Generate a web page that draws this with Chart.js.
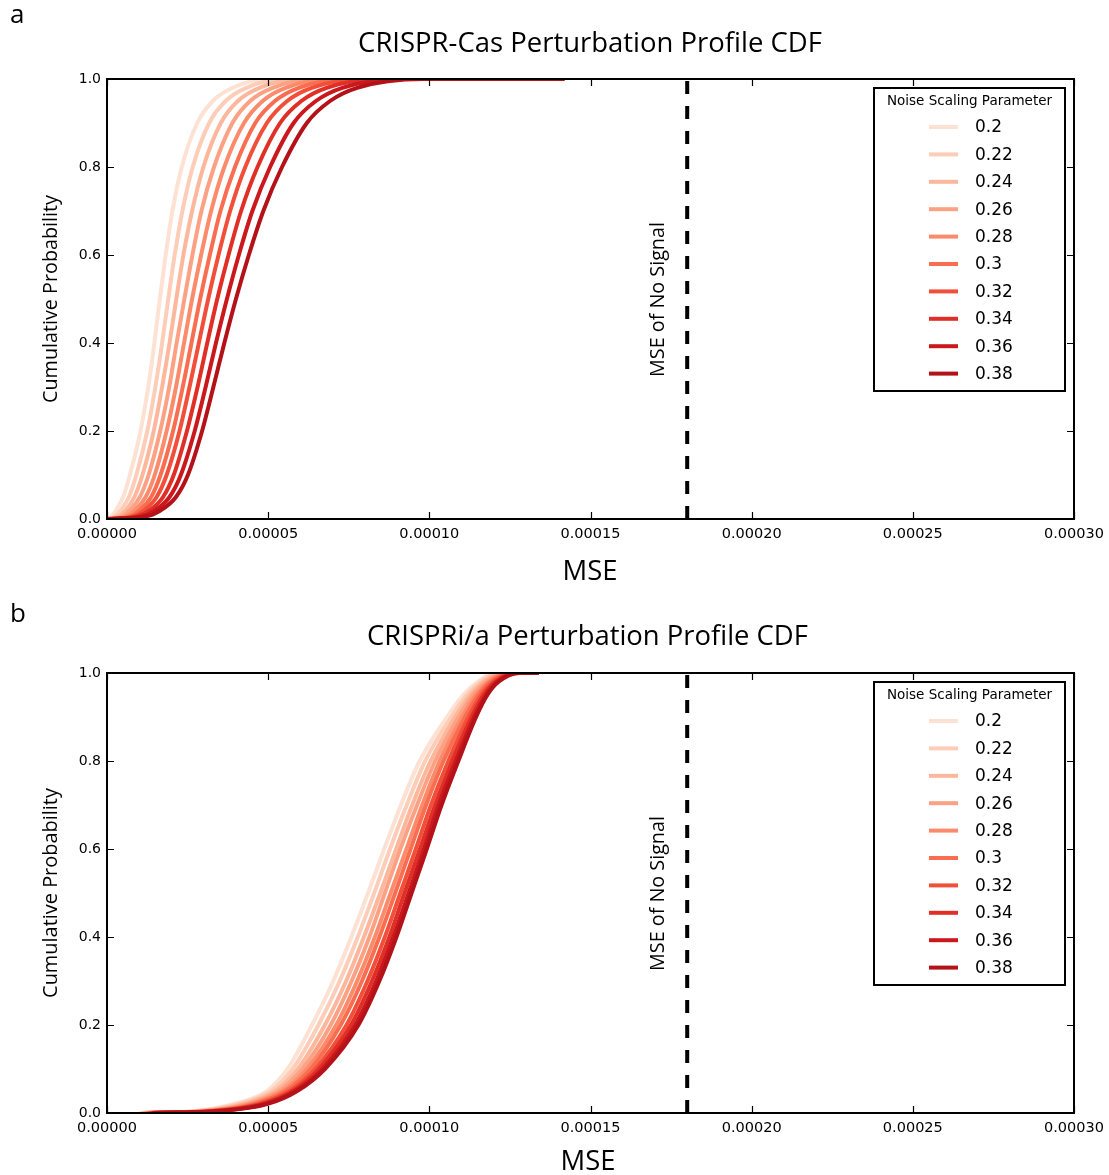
<!DOCTYPE html>
<html><head><meta charset="utf-8">
<script src="https://cdn.jsdelivr.net/npm/chart.js@4.4.1/dist/chart.umd.min.js"></script>
<style>
html,body{margin:0;padding:0;background:#fff;overflow:hidden;width:1109px;height:1175px;position:relative}
canvas{position:absolute;left:0}
#c1{top:0}#c2{top:594px}
</style></head>
<body>
<canvas id="c1" width="1109" height="594"></canvas>
<canvas id="c2" width="1109" height="581"></canvas>
<script>
// ---------------- DATA ----------------
const MSE_UNIT = 1e-5;                       // values below are in units of 1e-5
const NOISE_PARAMS = ['0.2','0.22','0.24','0.26','0.28','0.3','0.32','0.34','0.36','0.38'];
const COLORS = ['#fde1d3','#fdcdb8','#fcb79c','#fca184','#fc8b6c','#f96e50','#f14f39','#e02f26','#ca181d','#b31218'];
const CDF_LEVELS = [0, 0.005, 0.02, 0.05, 0.1, 0.2, 0.3, 0.4, 0.5, 0.6, 0.7, 0.8, 0.9, 0.95, 0.98, 1.0];
const X_TICKS = [0, 0.00005, 0.0001, 0.00015, 0.0002, 0.00025, 0.0003];
const Y_TICKS = [0, 0.2, 0.4, 0.6, 0.8, 1.0];
const NO_SIGNAL_MSE = 0.00018;

// Panel a: CRISPR-Cas — MSE (x1e-5) at each CDF level
const CAS_020 = [0, 0.12, 0.28, 0.50, 0.71, 1.04, 1.28, 1.47, 1.64, 1.82, 2.03, 2.32, 2.80, 3.28, 3.90, 4.96];
const CAS_022 = [0, 0.23, 0.43, 0.68, 0.91, 1.25, 1.50, 1.71, 1.90, 2.10, 2.34, 2.66, 3.17, 3.68, 4.32, 5.49];
const CAS_024 = [0, 0.34, 0.58, 0.85, 1.10, 1.45, 1.71, 1.94, 2.15, 2.37, 2.64, 2.99, 3.53, 4.06, 4.73, 6.00];
const CAS_026 = [0, 0.45, 0.72, 1.02, 1.29, 1.65, 1.93, 2.16, 2.40, 2.65, 2.93, 3.32, 3.89, 4.44, 5.14, 6.51];
const CAS_028 = [0, 0.56, 0.87, 1.20, 1.48, 1.85, 2.14, 2.39, 2.64, 2.92, 3.23, 3.64, 4.25, 4.83, 5.54, 7.02];
const CAS_030 = [0, 0.67, 1.02, 1.37, 1.66, 2.05, 2.35, 2.62, 2.89, 3.19, 3.52, 3.97, 4.60, 5.21, 5.95, 7.53];
const CAS_032 = [0, 0.77, 1.16, 1.54, 1.85, 2.25, 2.56, 2.85, 3.14, 3.46, 3.82, 4.29, 4.96, 5.59, 6.35, 8.03];
const CAS_034 = [0, 0.90, 1.33, 1.74, 2.07, 2.48, 2.81, 3.11, 3.42, 3.77, 4.16, 4.67, 5.37, 6.03, 6.81, 8.61];
const CAS_036 = [0, 1.03, 1.50, 1.94, 2.29, 2.72, 3.06, 3.38, 3.72, 4.09, 4.51, 5.06, 5.79, 6.48, 7.30, 9.22];
const CAS_038 = [0, 1.15, 1.67, 2.14, 2.51, 2.95, 3.30, 3.64, 4.00, 4.40, 4.85, 5.43, 6.20, 6.92, 7.76, 9.80];
const CAS_MAX = [9.0, 10.1, 9.6, 11.2, 10.5, 12.0, 11.4, 12.8, 13.5, 14.2];

// Panel b: CRISPRi/a — MSE (x1e-5) at each CDF level
const IA_020 = [1.00, 2.80, 3.90, 4.96, 5.60, 6.36, 7.02, 7.58, 8.10, 8.60, 9.12, 9.70, 10.55, 11.05, 11.50, 12.00];
const IA_022 = [1.05, 2.91, 4.05, 5.09, 5.76, 6.56, 7.22, 7.78, 8.29, 8.78, 9.30, 9.87, 10.68, 11.16, 11.59, 12.11];
const IA_024 = [1.10, 3.02, 4.20, 5.22, 5.92, 6.76, 7.42, 7.97, 8.48, 8.97, 9.47, 10.04, 10.80, 11.26, 11.68, 12.22];
const IA_026 = [1.15, 3.12, 4.32, 5.34, 6.06, 6.94, 7.59, 8.14, 8.62, 9.10, 9.62, 10.18, 10.91, 11.35, 11.76, 12.32];
const IA_028 = [1.20, 3.22, 4.45, 5.45, 6.20, 7.11, 7.76, 8.31, 8.80, 9.29, 9.78, 10.32, 11.02, 11.44, 11.84, 12.42];
const IA_030 = [1.25, 3.30, 4.56, 5.54, 6.32, 7.25, 7.91, 8.45, 8.94, 9.42, 9.90, 10.44, 11.11, 11.52, 11.90, 12.50];
const IA_032 = [1.30, 3.39, 4.68, 5.66, 6.46, 7.43, 8.08, 8.62, 9.10, 9.58, 10.05, 10.59, 11.22, 11.61, 11.98, 12.59];
const IA_034 = [1.35, 3.47, 4.79, 5.75, 6.57, 7.57, 8.22, 8.76, 9.23, 9.71, 10.18, 10.71, 11.31, 11.68, 12.05, 12.67];
const IA_036 = [1.40, 3.54, 4.89, 5.83, 6.68, 7.70, 8.35, 8.88, 9.36, 9.83, 10.29, 10.82, 11.39, 11.75, 12.10, 12.74];
const IA_038 = [1.45, 3.60, 4.96, 5.90, 6.76, 7.80, 8.45, 8.98, 9.45, 9.92, 10.38, 10.90, 11.45, 11.80, 12.15, 12.80];
const IA_MAX = [12.6, 12.8, 12.9, 13.0, 13.1, 12.9, 13.2, 13.1, 13.3, 13.4];

const CAS_SERIES = [CAS_020, CAS_022, CAS_024, CAS_026, CAS_028, CAS_030, CAS_032, CAS_034, CAS_036, CAS_038];
const IA_SERIES = [IA_020, IA_022, IA_024, IA_026, IA_028, IA_030, IA_032, IA_034, IA_036, IA_038];

// ---------------- RENDERING ----------------
const SANS = '"Open Sans", "DejaVu Sans", sans-serif';
const MPL = '"DejaVu Sans", sans-serif';

function fitSize(ctx, text, family, width) {
  ctx.font = '100px ' + family;
  return 100 * width / ctx.measureText(text).width;
}

function buildDatasets(series, maxes) {
  const ds = series.map((arr, i) => {
    const pts = CDF_LEVELS.map((lv, j) => ({x: arr[j] * MSE_UNIT, y: lv}));
    pts.push({x: maxes[i] * MSE_UNIT, y: 1});
    return {
      label: NOISE_PARAMS[i], data: pts, borderColor: COLORS[i], backgroundColor: COLORS[i],
      borderWidth: 4, pointRadius: 0, showLine: true, fill: false,
      cubicInterpolationMode: 'monotone', order: series.length - i + 1
    };
  });
  ds.push({
    label: '_nolegend', data: [{x: NO_SIGNAL_MSE, y: 0}, {x: NO_SIGNAL_MSE, y: 1}],
    borderColor: '#000', borderWidth: 4, borderDash: [13, 12], pointRadius: 0,
    showLine: true, fill: false, order: 0, borderCapStyle: 'butt'
  });
  return ds;
}

function makePanel(id, canvasH, series, maxes, txt) {
  const decor = {
    id: 'decor',
    afterDraw(chart) {
      const ctx = chart.ctx, a = chart.chartArea;
      const xs = chart.scales.x, ys = chart.scales.y;
      ctx.save();
      ctx.fillStyle = '#000';
      // panel letter
      ctx.font = '26px ' + SANS; ctx.textAlign = 'left'; ctx.textBaseline = 'alphabetic';
      ctx.fillText(txt.letter, 10, txt.letterY);
      // title
      let s = fitSize(ctx, txt.title, SANS, txt.titleW);
      ctx.font = s + 'px ' + SANS; ctx.textAlign = 'center';
      ctx.fillText(txt.title, txt.titleX, txt.titleY);
      // x label
      s = fitSize(ctx, 'MSE', SANS, 55);
      ctx.font = s + 'px ' + SANS;
      ctx.fillText('MSE', txt.mseX, txt.mseY);
      // y label
      s = fitSize(ctx, 'Cumulative Probability', SANS, txt.yLabW);
      ctx.save(); ctx.translate(51, 299); ctx.rotate(-Math.PI / 2);
      ctx.font = s + 'px ' + SANS; ctx.textBaseline = 'middle';
      ctx.fillText('Cumulative Probability', 0, 0); ctx.restore();
      // no-signal annotation
      s = fitSize(ctx, 'MSE of No Signal', SANS, 155);
      ctx.save(); ctx.translate(658, 299.5); ctx.rotate(-Math.PI / 2);
      ctx.font = s + 'px ' + SANS; ctx.textBaseline = 'middle';
      ctx.fillText('MSE of No Signal', 0, 0); ctx.restore();
      // inward ticks
      ctx.strokeStyle = '#000'; ctx.lineWidth = 1.2;
      ctx.beginPath();
      X_TICKS.forEach(v => {
        const px = Math.round(xs.getPixelForValue(v)) + 0.5;
        ctx.moveTo(px, a.bottom); ctx.lineTo(px, a.bottom - 7);
        ctx.moveTo(px, a.top); ctx.lineTo(px, a.top + 7);
      });
      Y_TICKS.forEach(v => {
        const py = Math.round(ys.getPixelForValue(v)) + 0.5;
        ctx.moveTo(a.left, py); ctx.lineTo(a.left + 7, py);
        ctx.moveTo(a.right, py); ctx.lineTo(a.right - 7, py);
      });
      ctx.stroke();
      // frame
      ctx.lineWidth = 2;
      ctx.strokeRect(a.left, a.top, a.right - a.left, a.bottom - a.top);
      // legend
      const bx = a.right - 200, by = a.top + 9, bw = 191, bh = 303;
      ctx.fillStyle = '#fff'; ctx.fillRect(bx, by, bw, bh);
      ctx.strokeStyle = '#000'; ctx.lineWidth = 2; ctx.strokeRect(bx, by, bw, bh);
      ctx.fillStyle = '#000';
      ctx.font = '13.5px ' + MPL; ctx.textAlign = 'center'; ctx.textBaseline = 'middle';
      ctx.fillText('Noise Scaling Parameter', bx + bw / 2, by + 13);
      ctx.font = '17px ' + MPL; ctx.textAlign = 'left';
      chart.data.datasets.forEach((d, i) => {
        if (d.label === '_nolegend') return;
        const yy = by + 39 + i * 27.4;
        ctx.strokeStyle = d.borderColor; ctx.lineWidth = 4;
        ctx.beginPath(); ctx.moveTo(bx + 55, yy); ctx.lineTo(bx + 84, yy); ctx.stroke();
        ctx.fillStyle = '#000';
        ctx.fillText(d.label, bx + 101, yy + 1);
      });
      ctx.restore();
    }
  };

  return new Chart(document.getElementById(id), {
    type: 'scatter',
    data: {datasets: buildDatasets(series, maxes)},
    options: {
      responsive: false, animation: false, devicePixelRatio: 1,
      layout: {padding: {top: 79, right: 35, left: 0, bottom: 0}},
      plugins: {legend: {display: false}, title: {display: false}, tooltip: {enabled: false}},
      scales: {
        x: {
          type: 'linear', min: 0, max: 0.0003,
          grid: {display: false, drawTicks: false}, border: {display: false},
          ticks: {font: {family: MPL, size: 14.5}, color: '#000', padding: 7, autoSkip: false, maxRotation: 0,
                  callback: v => v.toFixed(5)},
          afterBuildTicks: sc => { sc.ticks = X_TICKS.map(v => ({value: v})); },
          afterFit: sc => { sc.height = canvasH - 519; sc.paddingLeft = 0; sc.paddingRight = 0; }
        },
        y: {
          type: 'linear', min: 0, max: 1,
          grid: {display: false, drawTicks: false}, border: {display: false},
          ticks: {font: {family: MPL, size: 14}, color: '#000', padding: 6, autoSkip: false,
                  callback: v => v.toFixed(1)},
          afterBuildTicks: sc => { sc.ticks = Y_TICKS.map(v => ({value: v})); },
          afterFit: sc => { sc.width = 107; sc.paddingTop = 0; sc.paddingBottom = 0; }
        }
      }
    },
    plugins: [decor]
  });
}

makePanel('c1', 594, CAS_SERIES, CAS_MAX, {
  letter: 'a', letterY: 23, title: 'CRISPR-Cas Perturbation Profile CDF', titleX: 590, titleY: 52, titleW: 464,
  mseX: 590, mseY: 580, yLabW: 208
});
makePanel('c2', 581, IA_SERIES, IA_MAX, {
  letter: 'b', letterY: 28, title: 'CRISPRi/a Perturbation Profile CDF', titleX: 587.5, titleY: 51, titleW: 441,
  mseX: 588, mseY: 576, yLabW: 210
});
</script>
</body></html>
